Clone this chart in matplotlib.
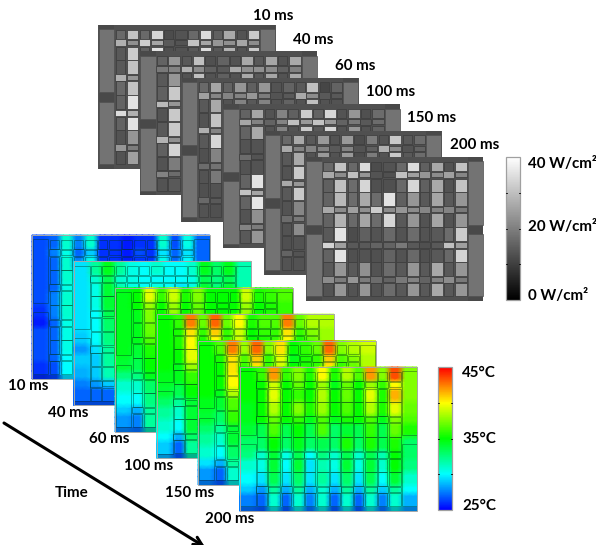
#!/usr/bin/env python
# stacked power and temperature maps of a chip floorplan at six time steps
import numpy as np
import matplotlib
matplotlib.use("Agg")
import matplotlib.pyplot as plt
from matplotlib.colors import LinearSegmentedColormap, Normalize
from matplotlib.patches import Rectangle

times = ["10 ms", "40 ms", "60 ms", "100 ms", "150 ms", "200 ms"]

# power, W/cm2. columns c1..c12, rows r1 s1 r2 (visible on top of each map)
power_top = [
    [[16.5, 30.5, 16.5, 33.5, 12, 13, 16.5, 34.5, 15, 26.5, 13, 31.5],
     [27.5, 22.5, 32, 26, 14, 13, 30.5, 26, 23.5, 22.5, 26, 22],
     [14, 32, 15, 35.5, 12.5, 13, 14, 34.5, 14, 28, 13, 31.5]],
    [[15.5, 23.5, 14, 30, 12.5, 15.5, 13, 26.5, 14, 26, 13, 26.5],
     [19, 20.5, 27.5, 22, 15, 14, 26.5, 22.5, 22.5, 22, 15, 20],
     [14, 23.5, 13, 30, 13, 15, 13, 26.5, 14, 26, 13, 26.5]],
    [[16.5, 26, 15.5, 23.5, 15, 23.5, 13, 15.5, 14, 30, 11, 15.5],
     [25, 21, 20.5, 20.5, 23.5, 19.5, 13, 14, 26.5, 22, 14, 14],
     [14, 26.5, 13, 20.5, 14, 20.5, 13, 15.5, 13, 30, 13, 13]],
    [[15.5, 26, 13, 20.5, 15, 32, 15.5, 33.5, 13, 23.5, 12.5, 17],
     [26, 20.5, 15.5, 20.5, 30, 24, 30.5, 24, 15.5, 19, 14, 17],
     [15.5, 26.5, 13, 20.5, 13, 31.5, 14, 33.5, 13, 23.5, 13, 15.5]],
    [[16.5, 26.5, 14, 24, 13, 24, 12, 19.5, 13, 31.5, 14, 17],
     [26.5, 20.5, 20.5, 20.5, 14, 20.5, 13, 15, 27.5, 22, 13, 15.5],
     [14, 26.5, 13, 24, 13, 24, 12, 19.5, 13, 31.5, 14, 17]],
]
# power, columns c1 c2, rows r3 s2 r4 r5 s3 r6 r7 s4 r8 (visible on the left)
power_left = [
    [[14, 30.5], [27.5, 23.5], [16.5, 30.5], [15.5, 35.5], [34.5, 27.5], [15.5, 35.5], [13, 23.5], [23.5, 19.5], [13, 25]],
    [[15, 31.5], [29, 23.5], [13, 31.5], [14, 31.5], [28, 22.5], [15, 33], [13, 19.5], [20.5, 17], [13, 14]],
    [[13, 30.5], [27.5, 20.5], [14, 33.5], [12.5, 20.5], [17, 18], [13, 19], [12.5, 13], [16.5, 14], [13, 12.5]],
    [[13, 13], [17, 13], [13, 13], [15.5, 35.5], [30.5, 26], [15.5, 36], [13, 22.5], [20.5, 19.5], [14, 23.5]],
    [[13, 31.5], [26.5, 23.5], [14, 31.5], [13, 21], [17, 19], [13, 22], [12.5, 13], [15.5, 13], [13, 13]],
]
# last power map, all rows r1 s1 r2 r3 s2 r4 r5 s3 r6 r7 s4 r8
power_front = [
    [16.5, 30.5, 16.5, 34.5, 12, 13, 16.5, 34.5, 15, 26.5, 13, 30.5],
    [26.5, 22, 30, 23.5, 13, 12.5, 30, 25, 23.5, 22, 25, 21],
    [15, 30, 17, 33.5, 12.5, 12.5, 16.5, 33.5, 15, 26.5, 13, 30.5],
    [15.5, 29, 17, 26.5, 17, 35.5, 15, 23.5, 14, 26, 14, 23.5],
    [26.5, 22, 25, 22.5, 32, 22, 23.5, 22, 21, 20.5, 20.5, 19],
    [15.5, 28, 16.5, 26, 17, 33.5, 14, 23.5, 13, 26, 13, 23.5],
    [14, 35.5, 12, 15, 13, 16.5, 13, 17, 13, 14, 17, 32],
    [33, 25, 14, 14, 15.5, 15.5, 19, 14, 12.5, 14, 30, 25],
    [15.5, 35.5, 12.5, 13, 12.5, 15.5, 13, 16.5, 12.5, 14, 16.5, 33],
    [14, 23.5, 14, 22.5, 13, 17, 14, 23.5, 14, 26.5, 14, 23.5],
    [22, 19.5, 23.5, 19.5, 17, 15.5, 19, 20.5, 15.5, 20.5, 22, 19],
    [13, 23.5, 13, 23.5, 13, 17, 14, 23.5, 14, 26.5, 14, 23.5],
]
power_block = 18
power_strip = 11.5

# temperature, degC. left block, c1..c12, right block, rows r1 s1 r2
temp_top = [
    [[26.5, 27, 31, 27.5, 31, 26, 26, 25.5, 26, 26, 31, 26.5, 30.5, 27],
     [26.5, 27.5, 30.5, 27, 29, 26, 26, 25.5, 26.5, 26, 29.5, 27, 29.5, 27],
     [26.5, 27, 31, 27.5, 30.5, 26, 26, 25.5, 26, 26, 30.5, 27, 30, 27]],
    [[29.5, 32, 34.5, 32, 30.5, 30, 31, 30, 30, 31, 34.5, 33, 34.5, 31.5],
     [29.5, 31, 33.5, 31, 30.5, 30, 30, 30, 30, 30.5, 33.5, 32.5, 33.5, 31.5],
     [29.5, 30.5, 34, 31.5, 30.5, 30, 30.5, 30, 29.5, 30.5, 34, 32.5, 34, 31.5]],
    [[34.5, 35, 39.5, 36, 39, 35.5, 37.5, 35, 35, 35, 39, 35.5, 36, 36.5],
     [34.5, 35, 38, 35, 38, 35, 37, 35, 35, 35, 38, 35, 35.5, 36],
     [34.5, 34.5, 37.5, 35, 38, 35, 37, 35, 35, 35, 38, 35, 35.5, 36]],
    [[35, 36, 42.5, 37, 43, 37, 40, 35.5, 36.5, 36.5, 42.5, 37, 38.5, 38.5],
     [35, 35.5, 40.5, 36, 41, 36, 39, 35, 36, 36, 40.5, 36, 37.5, 38],
     [35, 35.5, 40, 35.5, 40, 36, 39, 35, 35.5, 36, 40, 35.5, 37, 38]],
    [[35, 36.5, 42.5, 38, 43, 37.5, 40.5, 35, 36, 37, 43, 37.5, 38.5, 39],
     [35, 35.5, 40.5, 36.5, 41, 36, 39.5, 34.5, 35.5, 36, 41, 36.5, 37.5, 38.5],
     [35, 35, 40.5, 36, 40.5, 36, 39, 35, 35.5, 36, 40.5, 36, 37, 38.5]],
]
# temperature, left block c1 c2, rows r3 s2 r4 r5 s3 r6 r7 s4 r8
temp_left = [
    [[26.5, 27, 31], [26.5, 27, 30.5], [26.5, 27.5, 31], [26, 27.5, 31], [25.5, 27, 30.5],
     [26.5, 27, 30.5], [26.5, 27, 30.5], [26.5, 27, 30], [26, 26.5, 30]],
    [[29.5, 30.5, 34], [29.5, 30, 33.5], [29.5, 30, 33], [29, 30, 32.5], [28, 29.5, 32],
     [29, 29, 32], [28.5, 29, 31.5], [27.5, 28, 29], [27, 27, 27]],
    [[34.5, 34.5, 37], [34.5, 34.5, 36.5], [34.5, 34, 35.5], [34, 33.5, 35], [32.5, 32.5, 34.5],
     [31, 31, 33], [30, 30, 32.5], [29, 28.5, 32], [28, 27.5, 32]],
    [[35, 35, 39.5], [35, 34.5, 38], [34.5, 34.5, 36], [34, 33.5, 35], [33, 32, 34],
     [32, 31, 34], [31, 30, 34], [30, 28.5, 33], [29, 27, 32]],
    [[35, 35, 40], [35, 34.5, 38.5], [34.5, 34, 36.5], [34, 33, 36], [33, 32, 34],
     [32, 31, 34], [31, 30, 33], [29.5, 28.5, 32], [28, 27, 31]],
]
# last temperature map, all rows, all columns
temp_front = [
    [35, 36, 42, 36, 37.5, 35.5, 40, 35.5, 38.5, 36.5, 42, 37.5, 43.5, 37.5],
    [35, 35, 39, 35, 37, 35, 38, 34.5, 37, 35, 38, 36, 40, 37.5],
    [35, 35, 39.5, 35, 36, 35, 38.5, 35, 37, 35, 39.5, 35.5, 41.5, 37.5],
    [34.5, 35, 38.5, 35, 37.5, 35.5, 38, 35, 36.5, 35, 38.5, 35.5, 39.5, 37],
    [34.5, 35, 37, 35, 36, 34.5, 36.5, 34.5, 35.5, 35, 36.5, 34.5, 37.5, 36.5],
    [34, 33.5, 36.5, 33.5, 35, 33.5, 36.5, 33, 34, 33.5, 36, 33.5, 37, 35.5],
    [33, 33, 35, 33, 34.5, 33, 33.5, 33, 35.5, 33, 35.5, 33.5, 35.5, 33],
    [32.5, 31, 34, 30.5, 33.5, 30, 32.5, 31, 33.5, 31, 33.5, 31.5, 35, 33],
    [31, 30.5, 34, 30, 34, 29.5, 31.5, 30.5, 34, 30.5, 34, 31, 35, 32.5],
    [30, 29.5, 33.5, 29.5, 33, 29.5, 32, 29.5, 33, 29.5, 33.5, 30, 34, 31],
    [29, 28, 32, 28.5, 32, 28.5, 31, 28.5, 32, 28.5, 32, 29, 32, 30],
    [27.5, 27, 31, 27, 31, 27.5, 31, 27, 31, 27, 31, 27.5, 31, 28.5],
]

power_ticks = [0, 20, 40]
temp_ticks = [25, 35, 45]

# floorplan layout in pixels inside one map
MAP_W, MAP_H = 177.5, 144
COLS = [(17.7, 27), (28.7, 40.3), (42, 51), (53, 64.7), (65.7, 75.3), (77, 89),
        (90.3, 100), (101.7, 113), (114.7, 123.7), (125.3, 137), (138.7, 147.7), (149.7, 161)]
ROWS = [(4.3, 14), (14, 21.3), (21.3, 34.7), (34.7, 49), (49, 56), (56, 70),
        (70, 84.3), (84.3, 91.7), (91.7, 105), (105, 119), (119, 126), (126, 139.3)]
SMALL = (1, 4, 7, 10)
BLOCKS = [(0.5, 16), (162, 177)]
STEP_X, STEP_Y = 41.5, 26.4

jet = LinearSegmentedColormap.from_list("jet5", ["#0000ff", "#00ffff", "#00ff00", "#ffff00", "#ff0000"])
gray_norm = Normalize(0, 40)
temp_norm = Normalize(25, 45)


def cell_box(r, c):
    x0, x1 = COLS[c]
    y0, y1 = ROWS[r]
    if r in SMALL:
        if c % 2 == 0:
            return x0 - 1, y0 + 0.4, x1 - x0 + 2, y1 - y0 - 0.8
        return x0, y0 + 1.0, x1 - x0, y1 - y0 - 2.0
    return x0, y0 + 0.2, x1 - x0, y1 - y0 - 0.4


def draw_power(ax, x, y, grid, z):
    ax.add_patch(Rectangle((x, y), MAP_W, MAP_H, fc="#505050", ec="none", zorder=z))
    for bx0, bx1 in BLOCKS:
        ax.add_patch(Rectangle((x + bx0, y), bx1 - bx0, MAP_H, fc=plt.cm.gray(gray_norm(power_strip)), ec="none", zorder=z))
        for t, b in [(4.3, 67.5), (77, 139.3)]:
            ax.add_patch(Rectangle((x + bx0, y + t), bx1 - bx0, b - t, fc=plt.cm.gray(gray_norm(power_block)),
                                   ec="#505050", lw=0.5, zorder=z))
    for r in range(12):
        for c in range(12):
            if np.isnan(grid[r, c]):
                continue
            cx, cy, w, h = cell_box(r, c)
            ax.add_patch(Rectangle((x + cx, y + cy), w, h, fc=plt.cm.gray(gray_norm(grid[r, c])),
                                   ec="#3e3e3e", lw=0.55, zorder=z))


def draw_temp(ax, x, y, grid, z):
    # two nodes per cell so each cell keeps a plateau and only its rim fades
    xn = []
    for a, b in BLOCKS[:1] + COLS + BLOCKS[1:]:
        xn += [a + 0.25 * (b - a), b - 0.25 * (b - a)]
    yn = []
    for a, b in ROWS:
        yn += [a + 0.25 * (b - a), b - 0.25 * (b - a)]
    xn = np.array([0] + xn + [MAP_W]) + x
    yn = np.array([0] + yn + [MAP_H]) + y
    vals = np.repeat(np.repeat(grid, 2, axis=0), 2, axis=1)
    vals = np.pad(vals, 1, mode="edge")
    ax.pcolormesh(xn, yn, vals, shading="gouraud", cmap=jet, norm=temp_norm, zorder=z)
    line = (0, 0.2, 0.1, 0.4)
    for r in range(12):
        for c in range(12):
            cx, cy, w, h = cell_box(r, c)
            ax.add_patch(Rectangle((x + cx, y + cy), w, h, fc="none", ec=line, lw=0.7, zorder=z))
    for bx0, bx1 in BLOCKS:
        for t, b in [(4.3, 67.5), (77, 139.3)]:
            ax.add_patch(Rectangle((x + bx0, y + t), bx1 - bx0, b - t, fc="none", ec=line, lw=0.7, zorder=z))
    ax.add_patch(Rectangle((x, y + 139.5), MAP_W, 4.5, fc=(0, 0, 0.4, 0.3), ec="none", zorder=z))
    ax.add_patch(Rectangle((x, y), MAP_W, MAP_H, fc="none", ec="#a8a8a8", lw=0.7, zorder=z))


def full_power(i):
    if i == 5:
        return np.array(power_front, float)
    grid = np.full((12, 12), np.nan)
    grid[:3] = power_top[i]
    grid[3:, :2] = power_left[i]
    return grid


def full_temp(i):
    if i == 5:
        return np.array(temp_front, float)
    grid = np.zeros((12, 14))
    grid[:3] = temp_top[i]
    left = np.array(temp_left[i], float)
    grid[3:, :3] = left
    grid[3:, 3:] = left[:, 2:3]
    return grid


def colorbar(ax, x0, x1, y0, y1, cmap, norm, ticks):
    levels = np.linspace(norm.vmax, norm.vmin, 200)[:, None]
    ax.imshow(levels, extent=(x0, x1, y1, y0), aspect="auto", cmap=cmap, norm=norm, zorder=50)
    ax.add_patch(Rectangle((x0, y0), x1 - x0, y1 - y0, fc="none", ec="#a0a0a0", lw=0.9, zorder=51))
    lo, hi = ticks[0], ticks[-1]
    for t in np.linspace(lo, hi, 5)[1:-1]:
        ty = y1 - (t - lo) / (hi - lo) * (y1 - y0)
        ax.plot([x0, x0 + 1.2], [ty, ty], color="k", lw=0.6, zorder=52)
        ax.plot([x1 - 1.2, x1], [ty, ty], color="k", lw=0.6, zorder=52)


fig = plt.figure(figsize=(5.96, 5.45), dpi=100)
ax = fig.add_axes([0, 0, 1, 1])

for i in range(6):
    draw_power(ax, 98 + STEP_X * i, 25 + STEP_Y * i, full_power(i), 10 + i)
    draw_temp(ax, 32 + STEP_X * i, 235 + STEP_Y * i, full_temp(i), 20 + i)

colorbar(ax, 506, 520, 157, 300, "gray", gray_norm, power_ticks)
colorbar(ax, 438, 452, 367, 510, jet, temp_norm, temp_ticks)

ax.set_xlim(0, 596)
ax.set_ylim(545, 0)
ax.axis("off")

font = dict(family="Lato", weight="bold", fontsize=10.9, color="black", va="center", zorder=60)
power_label_x = [253, 293, 335, 366, 407, 450]
power_label_y = [16, 40, 66, 92, 118, 145]
temp_label_x = [8, 48, 89, 124, 165, 205]
temp_label_y = [386, 413, 439, 466, 493, 519]
for i, t in enumerate(times):
    ax.text(power_label_x[i], power_label_y[i], t, **font)
    ax.text(temp_label_x[i], temp_label_y[i], t, **font)

ax.text(528, 164, "40 W/cm²", **font)
ax.text(528, 227, "20 W/cm²", **font)
ax.text(528, 296, "0 W/cm²", **font)
ax.text(462, 373, "45°C", **font)
ax.text(462, 439, "35°C", **font)
ax.text(462, 506, "25°C", **font)
ax.text(55, 493, "Time", **font)

ax.annotate("", xy=(205, 547), xytext=(4, 423), annotation_clip=False, zorder=60,
            arrowprops=dict(arrowstyle="->,head_length=0.6,head_width=0.3", color="k", lw=2.2, shrinkA=0, shrinkB=0))

fig.savefig("out.png", dpi=100)
plt.close(fig)
